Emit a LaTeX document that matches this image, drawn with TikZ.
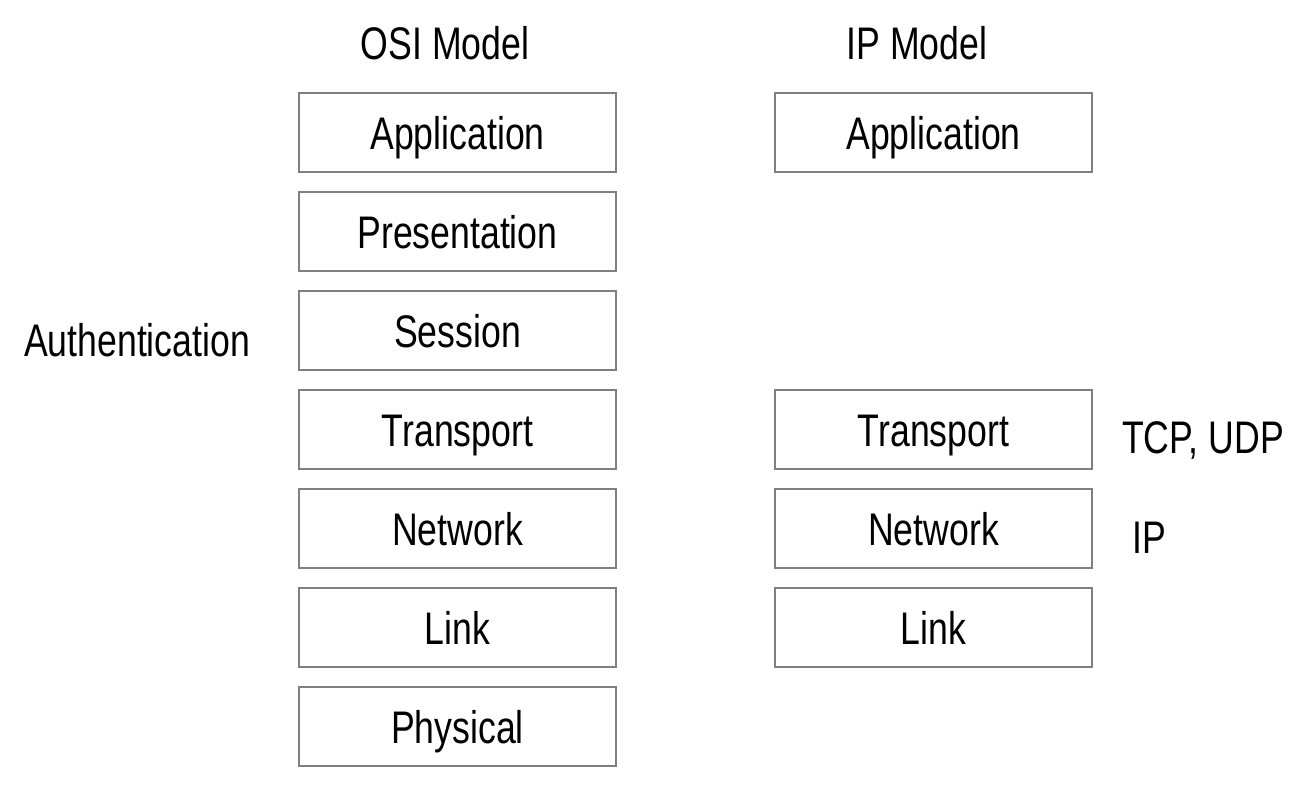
\documentclass[tikz,border=0pt]{standalone}
\usepackage{fontspec}
\setmainfont[FakeStretch=0.78]{Liberation Sans}
\usepackage{tikz}

\tikzset{
  layer/.style={draw=black!50, line width=1.1pt, minimum width=6.34cm, minimum height=1.58cm,
    text height=0.66cm, text depth=0pt, inner sep=0pt, font=\fontsize{26}{30}\selectfont},
  tag/.style={text height=0.66cm, text depth=0pt, inner sep=0pt, font=\fontsize{26}{30}\selectfont}
}

\begin{document}
\begin{tikzpicture}
      \useasboundingbox (0,0) rectangle (26.16,-15.84);
      % column headings
      \node at (8.9,-0.86)[tag] (osi){OSI Model};
      \node at (18.34,-0.86)[tag] (ip){IP Model};
      % OSI stack
      \node at (9.15,-2.65)[layer] (o1){Application};
      \node at (9.15,-4.63)[layer] (o2){Presentation};
      \node at (9.15,-6.61)[layer] (o3){Session};
      \node at (9.15,-8.59)[layer] (o4){Transport};
      \node at (9.15,-10.57)[layer] (o5){Network};
      \node at (9.15,-12.55)[layer] (o6){Link};
      \node at (9.15,-14.53)[layer] (o7){Physical};
      % IP stack
      \node at (18.67,-2.65)[layer] (i1){Application};
      \node at (18.67,-8.59)[layer] (i4){Transport};
      \node at (18.67,-10.57)[layer] (i5){Network};
      \node at (18.67,-12.55)[layer] (i6){Link};
      % side notes
      \node at (2.74,-6.8)[tag] (auth){Authentication};
      \node at (24.06,-8.74)[tag] (tcp){TCP, UDP};
      \node at (22.98,-10.74)[tag] (ipp){IP};
\end{tikzpicture}
\end{document}
